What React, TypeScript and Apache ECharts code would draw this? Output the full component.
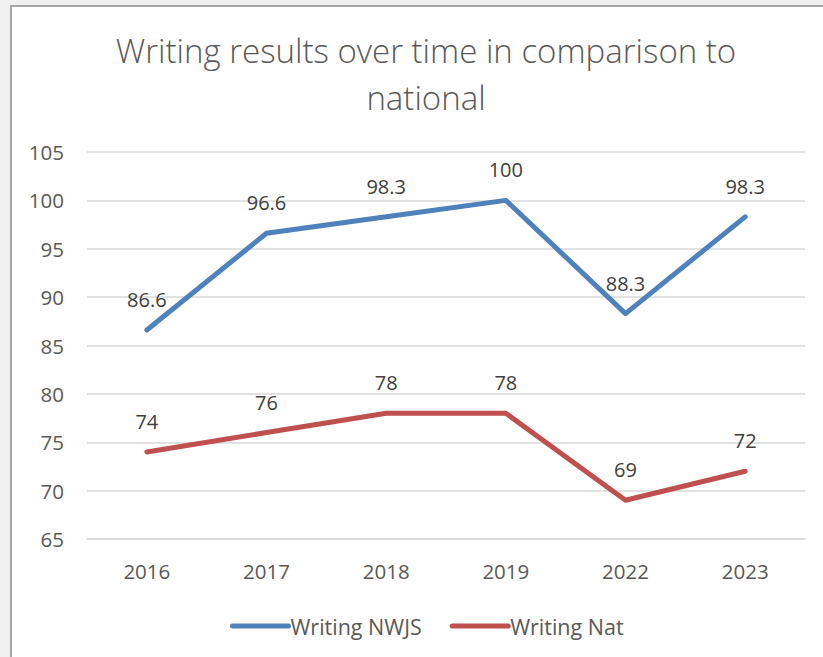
import React, { useEffect, useRef } from "react";
import * as echarts from "echarts";

const categories = ["2016", "2017", "2018", "2019", "2022", "2023"];
const nwjsValues = [86.6, 96.6, 98.3, 100, 88.3, 98.3];
const natValues = [74, 76, 78, 78, 69, 72];
const seriesNames = ["Writing NWJS", "Writing Nat"];
const titleText = "Writing results over time in comparison to\nnational";

const FONT = "'Open Sans', 'Noto Sans', sans-serif";

export default function App() {
  const ref = useRef<HTMLDivElement>(null);
  useEffect(() => {
    if (!ref.current) return;
    const chart = echarts.init(ref.current, undefined, { renderer: "svg" });
    const labelStyle = {
      show: true,
      position: "top" as const,
      distance: 20,
      fontSize: 20,
      color: "#404040",
      fontFamily: FONT,
    };
    chart.setOption({
      animation: false,
      title: {
        text: titleText,
        left: 421,
        textAlign: "center",
        top: 22,
        textStyle: {
          fontFamily: FONT,
          fontSize: 33,
          fontWeight: 300,
          color: "#595959",
          lineHeight: 47,
        },
      },
      grid: { left: 87, right: 18, top: 152, bottom: 118 },
      xAxis: {
        type: "category",
        data: categories,
        boundaryGap: true,
        axisLine: { show: true, lineStyle: { color: "#d9d9d9", width: 1.5 } },
        axisTick: { show: false },
        axisLabel: { fontSize: 20.5, color: "#595959", fontFamily: FONT, margin: 21 },
      },
      yAxis: {
        type: "value",
        min: 65,
        max: 105,
        interval: 5,
        axisLine: { show: false },
        axisTick: { show: false },
        splitLine: { lineStyle: { color: "#d9d9d9", width: 1.5 } },
        axisLabel: { fontSize: 20.5, color: "#595959", fontFamily: FONT, margin: 23 },
      },
      legend: {
        data: seriesNames,
        left: 225,
        top: 610,
        itemWidth: 56,
        itemHeight: 14,
        itemGap: 28,
        itemStyle: { opacity: 0 },
        lineStyle: { width: 5, cap: "round" },
        textStyle: { fontSize: 21.5, color: "#595959", fontFamily: FONT, padding: [0, 0, 0, -3] },
      },
      series: [
        {
          name: seriesNames[0],
          type: "line",
          data: nwjsValues,
          symbol: "circle",
          symbolSize: 1,
          lineStyle: { color: "#4f81bd", width: 5, cap: "round", join: "round" },
          itemStyle: { color: "#4f81bd" },
          label: labelStyle,
        },
        {
          name: seriesNames[1],
          type: "line",
          data: natValues,
          symbol: "circle",
          symbolSize: 1,
          lineStyle: { color: "#c0504d", width: 5, cap: "round", join: "round" },
          itemStyle: { color: "#c0504d" },
          label: labelStyle,
        },
      ],
    });
    return () => chart.dispose();
  }, []);

  return (
    <div style={{ position: "fixed", left: 0, top: 0, width: 823, height: 657, background: "#f0f0f0" }}>
      <div
        style={{
          position: "absolute",
          left: 10,
          top: 5,
          width: 813,
          height: 652,
          background: "#ffffff",
          borderLeft: "2px solid #a6a6a6",
          borderTop: "2px solid #a6a6a6",
          boxSizing: "border-box",
        }}
      />
      <div ref={ref} style={{ position: "absolute", left: 0, top: 0, width: 823, height: 657 }} />
    </div>
  );
}
